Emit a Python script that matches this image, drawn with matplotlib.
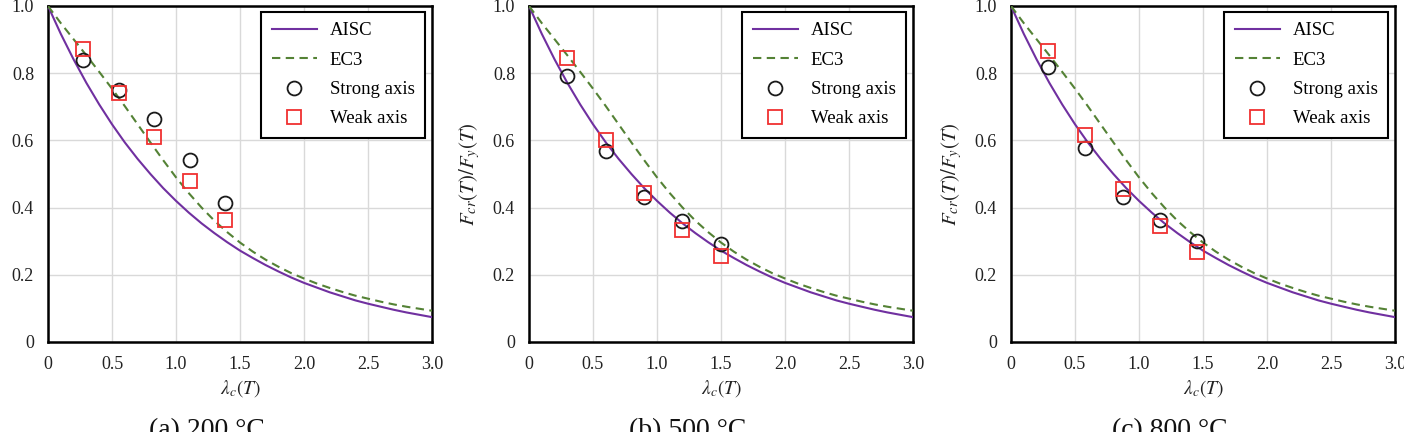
import matplotlib
matplotlib.use('Agg')
import matplotlib.pyplot as plt

# ---------------- data ----------------
lam = [0.0, 0.1, 0.2, 0.3, 0.4, 0.5, 0.6, 0.7, 0.8, 0.9, 1.0,
       1.1, 1.2, 1.3, 1.4, 1.5, 1.6, 1.7, 1.8, 1.9, 2.0,
       2.1, 2.2, 2.3, 2.4, 2.5, 2.6, 2.7, 2.8, 2.9, 3.0]
aisc = [1.000, 0.917, 0.841, 0.771, 0.707, 0.648, 0.594, 0.545, 0.500, 0.458, 0.420,
        0.385, 0.353, 0.324, 0.297, 0.272, 0.250, 0.229, 0.210, 0.192, 0.176,
        0.162, 0.148, 0.136, 0.124, 0.114, 0.105, 0.096, 0.088, 0.081, 0.074]
ec3 = [1.000, 0.949, 0.901, 0.853, 0.804, 0.754, 0.702, 0.648, 0.594, 0.541, 0.490,
       0.443, 0.400, 0.361, 0.327, 0.296, 0.269, 0.245, 0.224, 0.205, 0.189,
       0.174, 0.161, 0.149, 0.138, 0.129, 0.120, 0.112, 0.105, 0.099, 0.093]

captions = ['(a) 200 °C', '(b) 500 °C', '(c) 800 °C']

strong_x_200 = [0.274, 0.553, 0.827, 1.106, 1.385]
strong_y_200 = [0.839, 0.750, 0.663, 0.542, 0.413]
weak_x_200 = [0.274, 0.553, 0.827, 1.106, 1.385]
weak_y_200 = [0.872, 0.740, 0.611, 0.480, 0.364]

strong_x_500 = [0.300, 0.599, 0.898, 1.198, 1.497]
strong_y_500 = [0.792, 0.567, 0.431, 0.359, 0.291]
weak_x_500 = [0.300, 0.599, 0.898, 1.198, 1.497]
weak_y_500 = [0.846, 0.602, 0.443, 0.332, 0.255]

strong_x_800 = [0.289, 0.580, 0.872, 1.163, 1.452]
strong_y_800 = [0.818, 0.577, 0.433, 0.362, 0.302]
weak_x_800 = [0.289, 0.580, 0.872, 1.163, 1.452]
weak_y_800 = [0.867, 0.616, 0.455, 0.346, 0.267]

xticks = [0, 0.5, 1.0, 1.5, 2.0, 2.5, 3.0]
xticklabels = ['0', '0.5', '1.0', '1.5', '2.0', '2.5', '3.0']
yticks = [0, 0.2, 0.4, 0.6, 0.8, 1.0]
yticklabels = ['0', '0.2', '0.4', '0.6', '0.8', '1.0']

series = [
    (strong_x_200, strong_y_200, weak_x_200, weak_y_200),
    (strong_x_500, strong_y_500, weak_x_500, weak_y_500),
    (strong_x_800, strong_y_800, weak_x_800, weak_y_800),
]

# ---------------- style ----------------
plt.rcParams['font.family'] = ['Liberation Serif', 'DejaVu Serif']
plt.rcParams['mathtext.fontset'] = 'stix'

W, H = 1404, 432
fig = plt.figure(figsize=(W / 100, H / 100), dpi=100)

lefts = [48, 529, 1011]
ax_w, ax_h = 384, 336
ax_bottom = 432 - 342

purple = '#7030A0'
green = '#548235'
red = '#F03030'

for i, left in enumerate(lefts):
    ax = fig.add_axes([left / W, ax_bottom / H, ax_w / W, ax_h / H])
    sx, sy, wx, wy = series[i]
    ax.plot(lam, aisc, color=purple, lw=1.5, label='AISC', zorder=3)
    ax.plot(lam, ec3, color=green, lw=1.5, ls=(0, (4, 2.6)), label='EC3', zorder=3)
    ax.plot(sx, sy, ls='none', marker='o', ms=10, mfc='none', mec='#1a1a1a',
            mew=1.3, label='Strong axis', zorder=4)
    ax.plot(wx, wy, ls='none', marker='s', ms=10.5, mfc='none', mec=red,
            mew=1.3, label='Weak axis', zorder=4)

    ax.set_xlim(0, 3.0)
    ax.set_ylim(0, 1.0)
    ax.set_xticks(xticks)
    ax.set_xticklabels(xticklabels)
    ax.set_yticks(yticks)
    ax.set_yticklabels(yticklabels)
    ax.tick_params(length=0, pad=10, labelsize=13, colors='#222222')
    ax.grid(True, color='#d9d9d9', lw=1.0, zorder=0)
    ax.set_axisbelow(True)
    for sp in ax.spines.values():
        sp.set_linewidth(1.8)
        sp.set_color('black')

    ax.set_xlabel(r'$\lambda_c(T)$', fontsize=14, labelpad=4, color='#222222')
    ax.set_ylabel(r'$F_{cr}(T)/F_y(T)$', fontsize=15, labelpad=8, color='#222222')

    leg = ax.legend(loc='upper right', bbox_to_anchor=(0.982, 0.982),
                    borderaxespad=0, fontsize=13.5, labelspacing=0.65,
                    handlelength=2.4, handletextpad=0.7, borderpad=0.55,
                    fancybox=False, framealpha=1, edgecolor='black')
    leg.get_frame().set_linewidth(1.5)

    cx = (left + ax_w / 2 - 33) / W
    fig.text(cx, -5 / H, captions[i], ha='center', va='baseline',
             fontsize=20, color='#111111')

fig.savefig('out.png', dpi=100)
